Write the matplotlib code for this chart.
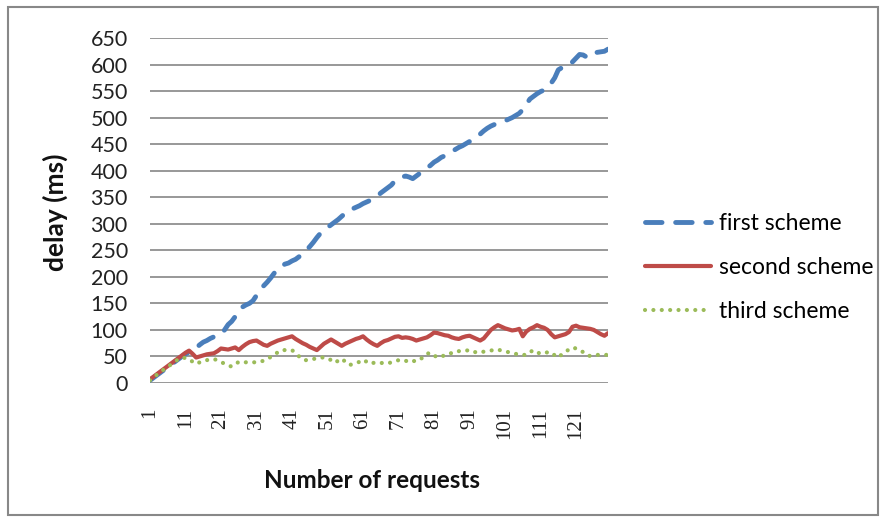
import numpy as np
import matplotlib.pyplot as plt
from matplotlib.patches import Rectangle

# delay (ms) per request
first_scheme = [5, 10, 15, 20, 25, 30, 36, 40, 45, 50,
                55, 58, 62, 66, 72, 77, 80, 84, 87, 90,
                92, 100, 110, 116, 125, 136, 143, 147, 150, 155,
                165, 175, 183, 190, 198, 207, 213, 220, 224, 226,
                230, 233, 238, 244, 250, 257, 265, 274, 282, 288,
                293, 298, 303, 308, 314, 320, 325, 328, 331, 334,
                338, 341, 344, 348, 352, 358, 363, 368, 373, 381,
                385, 388, 390, 388, 385, 390, 395, 400, 405, 410,
                416, 420, 425, 428, 432, 436, 440, 444, 447, 451,
                455, 460, 464, 469, 475, 480, 484, 487, 490, 492,
                494, 497, 500, 504, 508, 515, 525, 535, 540, 545,
                549, 552, 558, 565, 575, 590, 594, 596, 598, 605,
                612, 619, 618, 614, 621, 622, 623, 624, 625, 629]

second_scheme = [7, 12, 17, 22, 27, 32, 37, 42, 47, 52,
                 57, 61, 55, 48, 50, 52, 54, 55, 56, 60,
                 65, 64, 63, 65, 67, 62, 68, 73, 77, 79,
                 80, 76, 72, 70, 74, 77, 80, 82, 84, 86,
                 88, 83, 79, 75, 72, 68, 65, 62, 68, 74,
                 78, 82, 78, 74, 70, 74, 77, 80, 83, 85,
                 88, 82, 77, 73, 70, 75, 79, 81, 84, 87,
                 88, 85, 86, 85, 83, 80, 82, 84, 86, 90,
                 95, 94, 92, 90, 89, 86, 84, 83, 86, 88,
                 89, 86, 83, 80, 84, 92, 100, 105, 109, 106,
                 103, 101, 99, 100, 102, 88, 97, 102, 105, 109,
                 106, 104, 100, 92, 86, 88, 90, 92, 96, 106,
                 108, 105, 104, 103, 102, 100, 96, 92, 89, 94]

third_scheme = [5, 10, 16, 21, 26, 31, 35, 40, 45, 48,
                47, 45, 40, 36, 39, 42, 43, 45, 45, 43,
                40, 36, 33, 31, 35, 40, 40, 39, 39, 39,
                39, 40, 42, 45, 49, 53, 58, 62, 62, 62,
                62, 56, 50, 44, 43, 44, 45, 47, 48, 48,
                47, 43, 38, 42, 46, 40, 34, 35, 37, 40,
                44, 40, 36, 38, 39, 38, 37, 37, 39, 41,
                43, 44, 42, 39, 41, 42, 43, 50, 55, 57,
                52, 48, 50, 52, 53, 57, 60, 60, 61, 61,
                62, 60, 57, 58, 59, 60, 61, 63, 63, 61,
                60, 58, 57, 55, 53, 53, 53, 58, 62, 58,
                55, 56, 58, 58, 52, 48, 54, 59, 63, 67,
                65, 63, 58, 52, 51, 52, 53, 53, 53, 53]

requests = np.arange(1, len(first_scheme) + 1)
y_ticks = list(range(0, 651, 50))
x_ticks = list(range(1, 122, 10))

W, H = 886, 521
fig = plt.figure(figsize=(W / 100, H / 100), dpi=100)
ax = fig.add_axes([150 / W, 1 - 383 / H, (608 - 150) / W, (383 - 38) / H])

ax.plot(requests, first_scheme, color="#4A7EBB", lw=3.5, dashes=(3.4, 2.8),
        dash_capstyle="round", label="first scheme", zorder=3)
ax.plot(requests, second_scheme, color="#BE4B48", lw=3.0, solid_capstyle="round",
        label="second scheme", zorder=4)
ax.plot(requests, third_scheme, color="#9BBB59", lw=3.0, dashes=(0.01, 2.0),
        dash_capstyle="round", label="third scheme", zorder=5)

ax.set_xlim(1, len(requests))
ax.set_ylim(0, 650)
ax.set_yticks(y_ticks)
ax.set_xticks(x_ticks)
ax.yaxis.grid(True, color="#868686", lw=1.2)
ax.set_axisbelow(True)
for s in ax.spines.values():
    s.set_visible(False)
ax.tick_params(length=0)
ax.tick_params(axis="y", pad=16, labelsize=15.5, labelcolor="#222222")
ax.tick_params(axis="x", pad=18, labelsize=15, labelcolor="#222222")
for t in ax.get_yticklabels():
    t.set_fontfamily("Lato")
for t in ax.get_xticklabels():
    t.set_fontfamily("Liberation Serif")
    t.set_rotation(90)

fig.text(55 / W, 1 - 212 / H, "delay (ms)", rotation=90, ha="center", va="center",
         fontsize=19, fontweight="bold", family="Lato", color="#111111")
fig.text(372 / W, 1 - 480 / H, "Number of requests", ha="center", va="center",
         fontsize=17.5, fontweight="bold", family="Lato", color="#111111")

fig.legend(loc="center left", bbox_to_anchor=(645 / W, 1 - 267.5 / H), frameon=False,
           prop={"family": "Lato", "size": 16.5}, handlelength=2.9, handletextpad=0.35,
           labelspacing=1.0, borderpad=0, borderaxespad=0)

fig.patches.append(Rectangle((8 / W, 6 / H), 870 / W, 508 / H, transform=fig.transFigure,
                             fill=False, edgecolor="#888888", lw=1.5))

fig.savefig("out.png", dpi=100)
